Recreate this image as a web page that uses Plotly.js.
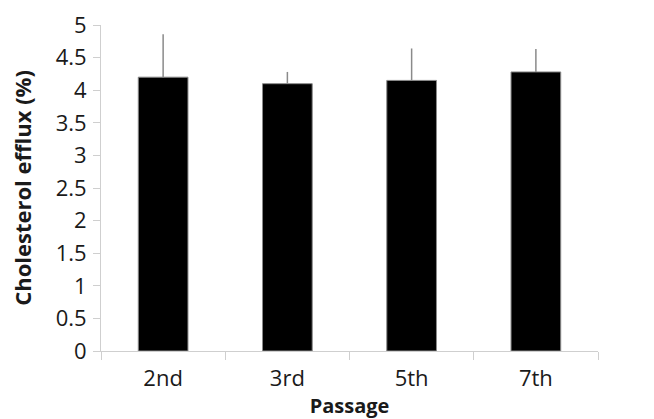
<!DOCTYPE html>
<html>
<head>
<meta charset="utf-8">
<script src="https://cdn.plot.ly/plotly-3.0.1.min.js"></script>
<style>
  html, body { margin: 0; padding: 0; background: #fff; }
  #chart { width: 654px; height: 419px; }
</style>
</head>
<body>
<div id="chart"></div>
<script>
// Cholesterol efflux across cell passages
const passages = ['2nd', '3rd', '5th', '7th'];
const effluxPct = [4.2, 4.1, 4.15, 4.28];
const effluxErr = [0.66, 0.18, 0.49, 0.35];
const yTickVals = [0, 0.5, 1, 1.5, 2, 2.5, 3, 3.5, 4, 4.5, 5];
const yTickText = ['0', '0.5', '1', '1.5', '2', '2.5', '3', '3.5', '4', '4.5', '5'];

const trace = {
  type: 'bar',
  x: passages,
  y: effluxPct,
  marker: { color: '#000000', line: { color: '#8a8a8a', width: 1 } },
  error_y: {
    type: 'data',
    array: effluxErr,
    symmetric: false,
    arrayminus: effluxPct.map(() => 0),
    color: '#8a8a8a',
    thickness: 1.5,
    width: 0
  },
  hoverinfo: 'skip'
};

const layout = {
  width: 654,
  height: 419,
  margin: { l: 101, r: 56, t: 25, b: 68 },
  paper_bgcolor: '#ffffff',
  plot_bgcolor: '#ffffff',
  bargap: 0.6,
  showlegend: false,
  font: { family: '"Open Sans", sans-serif', color: '#1a1a1a' },
  xaxis: {
    type: 'category',
    showline: true,
    linecolor: '#cfcfcf',
    linewidth: 1,
    ticks: 'outside',
    tickson: 'boundaries',
    ticklen: 8,
    tickcolor: '#cfcfcf',
    ticklabelstandoff: 8,
    tickfont: { size: 22, color: '#1a1a1a' },
    showgrid: false,
    zeroline: false,
    title: { text: 'Passage', font: { size: 20, color: '#1a1a1a', family: '"Open Sans", sans-serif', weight: 'bold' }, standoff: 8 }
  },
  yaxis: {
    range: [0, 5],
    tickvals: yTickVals,
    ticktext: yTickText,
    showline: true,
    linecolor: '#cfcfcf',
    linewidth: 1,
    ticks: 'outside',
    ticklen: 7,
    tickcolor: '#cfcfcf',
    ticklabelstandoff: 2,
    tickfont: { size: 22, color: '#1a1a1a' },
    showgrid: false,
    zeroline: false,
    title: { text: 'Cholesterol efflux (%)', font: { size: 22, color: '#1a1a1a', family: '"Open Sans", sans-serif', weight: 'bold' }, standoff: 17 }
  }
};

Plotly.newPlot('chart', [trace], layout, { staticPlot: true, displayModeBar: false });
</script>
</body>
</html>
